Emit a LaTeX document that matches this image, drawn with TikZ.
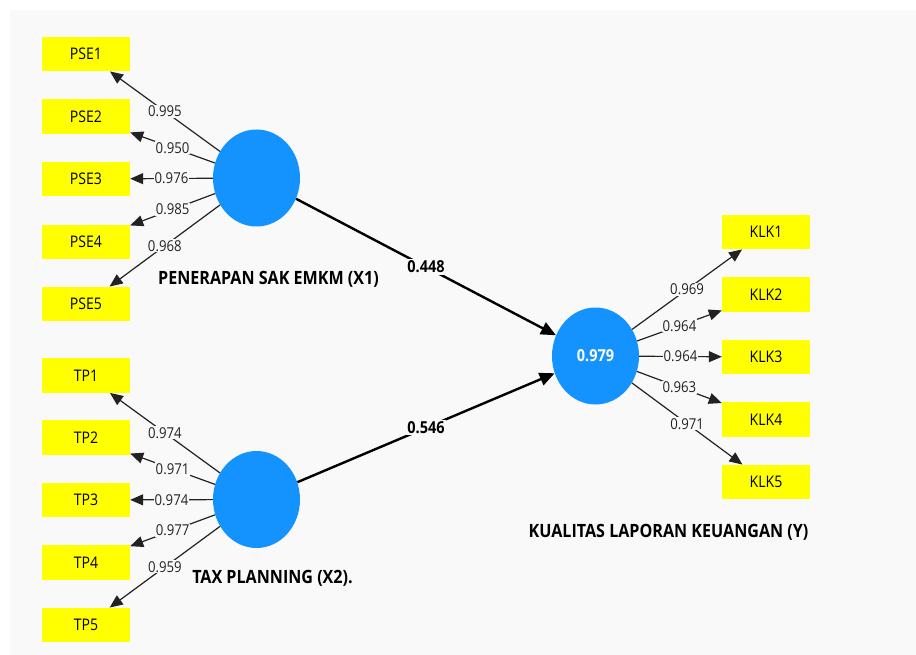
\documentclass[tikz,border=0pt]{standalone}
\usepackage{fontspec}
\setmainfont{Open Sans}
\newfontfamily\nf[FakeStretch=0.88]{Open Sans}
\usetikzlibrary{arrows.meta,shapes.geometric}
\definecolor{bg}{HTML}{F9F9F9}
\definecolor{lv}{HTML}{1493FF}
\definecolor{ind}{HTML}{FFFF00}
\definecolor{ln}{HTML}{222222}
\tikzset{
  indbox/.style={fill=ind, minimum width=88pt, minimum height=34.5pt, inner sep=0pt, font=\nf\fontsize{16}{18}\selectfont, text=black},
  latent/.style={ellipse, fill=lv, minimum width=87pt, minimum height=97pt, inner sep=0pt},
  load/.style={draw=ln, line width=1.2pt, -{Triangle[length=13pt,width=11pt]}},
  pathar/.style={draw=black, line width=2.4pt, -{Triangle[length=15pt,width=13pt]}},
  loadlbl/.style={fill=bg, inner sep=1pt, font=\nf\fontsize{15}{17}\selectfont, text=ln},
  pathlbl/.style={fill=bg, inner sep=1.5pt, font=\nf\bfseries\fontsize{16.5}{18}\selectfont, text=black},
  lvname/.style={font=\nf\bfseries\fontsize{18.3}{20}\selectfont, text=black}
}
\begin{document}
\begin{tikzpicture}[x=1pt,y=-1pt]
\useasboundingbox (0,0) rectangle (916,655);
\fill[white] (0,0) rectangle (916,655);
\fill[bg] (10,10) rectangle (916,655);
% indicator boxes
\node[indbox] (PSE1) at (86,54) {PSE1};
\node[indbox] (PSE2) at (86,116.5) {PSE2};
\node[indbox] (PSE3) at (86,179) {PSE3};
\node[indbox] (PSE4) at (86,242) {PSE4};
\node[indbox] (PSE5) at (86,304) {PSE5};
\node[indbox] (TP1) at (86,375.5) {TP1};
\node[indbox] (TP2) at (86,437.5) {TP2};
\node[indbox] (TP3) at (86,500) {TP3};
\node[indbox] (TP4) at (86,562.5) {TP4};
\node[indbox] (TP5) at (86,625) {TP5};
\node[indbox] (KLK1) at (766,232) {KLK1};
\node[indbox] (KLK2) at (766,294.5) {KLK2};
\node[indbox] (KLK3) at (766,357) {KLK3};
\node[indbox] (KLK4) at (766,419.5) {KLK4};
\node[indbox] (KLK5) at (766,482) {KLK5};
% latent variables
\node[latent] (X1) at (256.5,178) {};
\node[latent] (X2) at (256.5,499.5) {};
\node[latent, font=\nf\bfseries\fontsize{16.5}{18}\selectfont, text=white] (Y) at (595.5,356) {0.979};
% names
\node[lvname] (nX1) at (268.5,279) {PENERAPAN SAK EMKM (X1)};
\node[lvname] (nX2) at (272.5,578) {TAX PLANNING (X2).};
\node[lvname] (nY) at (668.5,532) {KUALITAS LAPORAN KEUANGAN (Y)};
% loadings X1
\draw[load] (X1) -- node[loadlbl, pos=0.5] {0.995} (PSE1);
\draw[load] (X1) -- node[loadlbl, pos=0.5] {0.950} (PSE2);
\draw[load] (X1) -- node[loadlbl, pos=0.5] {0.976} (PSE3);
\draw[load] (X1) -- node[loadlbl, pos=0.5] {0.985} (PSE4);
\draw[load] (X1) -- node[loadlbl, pos=0.5] {0.968} (PSE5);
% loadings X2
\draw[load] (X2) -- node[loadlbl, pos=0.5] {0.974} (TP1);
\draw[load] (X2) -- node[loadlbl, pos=0.5] {0.971} (TP2);
\draw[load] (X2) -- node[loadlbl, pos=0.5] {0.974} (TP3);
\draw[load] (X2) -- node[loadlbl, pos=0.5] {0.977} (TP4);
\draw[load] (X2) -- node[loadlbl, pos=0.5] {0.959} (TP5);
% loadings Y
\draw[load] (Y) -- node[loadlbl, pos=0.5] {0.969} (KLK1);
\draw[load] (Y) -- node[loadlbl, pos=0.5] {0.964} (KLK2);
\draw[load] (Y) -- node[loadlbl, pos=0.5] {0.964} (KLK3);
\draw[load] (Y) -- node[loadlbl, pos=0.5] {0.963} (KLK4);
\draw[load] (Y) -- node[loadlbl, pos=0.5] {0.971} (KLK5);
% paths
\draw[pathar] (X1) -- node[pathlbl, pos=0.5] {0.448} (Y);
\draw[pathar] (X2) -- node[pathlbl, pos=0.5] {0.546} (Y);
\end{tikzpicture}
\end{document}
